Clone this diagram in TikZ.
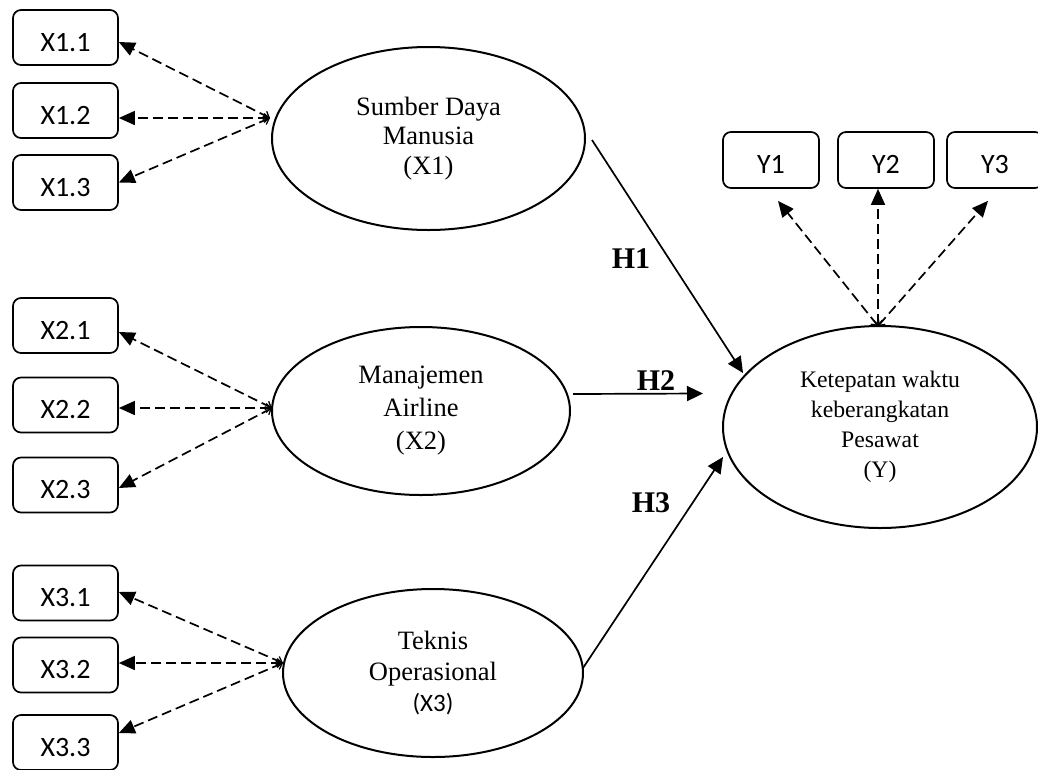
\documentclass[tikz,border=0pt]{standalone}
\usepackage{fontspec}
\setmainfont{Liberation Serif}
\newfontfamily\carl{Carlito}
\usetikzlibrary{arrows.meta,shapes.geometric,calc}
\begin{document}
\begin{tikzpicture}[x=1pt,y=-1pt,
  ind/.style={draw,line width=1.7pt,rounded corners=8pt,minimum width=105pt,minimum height=55pt,inner sep=0pt,
    font=\carl\fontsize{28}{30}\selectfont,text height=27pt,text depth=0pt},
  indy/.style={ind,minimum width=96pt,minimum height=56pt},
  lat/.style={draw,ellipse,line width=2pt,inner sep=0pt,align=center},
  load/.style={line width=1.7pt,dash pattern=on 10pt off 5pt,
    {Straight Barb[length=5pt,width=9pt,line width=1.3pt]}-{Triangle[length=16pt,width=14pt]}},
  sol/.style={line width=1.7pt,-{Triangle[length=16pt,width=15pt]}},
  hlab/.style={font=\bfseries\fontsize{30}{30}\selectfont,inner sep=0pt}
]
\useasboundingbox (0,0) rectangle (1038,769);
\clip (0,0) rectangle (1038,769);

% indicator boxes
\node[ind] (x11) at (65.5,37.5) {X1.1};
\node[ind] (x12) at (65.5,110.5) {X1.2};
\node[ind] (x13) at (65.5,182.5) {X1.3};
\node[ind] (x21) at (65.5,325.5) {X2.1};
\node[ind] (x22) at (65.5,405) {X2.2};
\node[ind] (x23) at (65.5,485) {X2.3};
\node[ind] (x31) at (65.5,593) {X3.1};
\node[ind] (x32) at (65.5,665) {X3.2};
\node[ind] (x33) at (65.5,742.5) {X3.3};
\node[indy] (y1) at (771,160) {Y1};
\node[indy] (y2) at (886,160) {Y2};
\node[indy] (y3) at (995,160) {Y3};

% latent variables
\node[lat,minimum width=313pt,minimum height=183pt,font=\fontsize{26.5}{29.7}\selectfont] (x1) at (428.5,138.5)
  {Sumber Daya\\Manusia\\(X1)};
\node[lat,minimum width=298pt,minimum height=168pt,font=\fontsize{26.5}{33}\selectfont] (x2) at (421,411)
  {Manajemen\\Airline\\(X2)};
\node[lat,minimum width=300pt,minimum height=168pt,font=\fontsize{26.5}{31}\selectfont] (x3) at (433,673)
  {Teknis\\Operasional\\{\carl\fontsize{25}{31}\selectfont (X3)}};
\node[lat,minimum width=314pt,minimum height=202pt,font=\fontsize{23.7}{30}\selectfont] (yy) at (880,427)
  {Ketepatan waktu\\keberangkatan\\Pesawat\\(Y)};

% convergence points
\coordinate (c1) at (270,118);
\coordinate (c2) at (272,408);
\coordinate (c3) at (283,663);
\coordinate (cy) at (878,326);

\draw[load] (c1) -- ($(x11.east)+(0,4.5)$);
\draw[load] (c1) -- ($(x12.east)+(0,7.5)$);
\draw[load] (c1) -- (x13.east);
\draw[load] (c2) -- ($(x21.east)+(0,6.5)$);
\draw[load] (c2) -- ($(x22.east)+(0,3)$);
\draw[load] (c2) -- ($(x23.east)+(0,3)$);
\draw[load] (c3) -- ($(x31.east)+(0,-1)$);
\draw[load] (c3) -- ($(x32.east)+(0,-2)$);
\draw[load] (c3) -- ($(x33.east)+(0,-9.5)$);
\draw[load] (cy) -- ($(y1.south)+(7,12)$);
\draw[load] (cy) -- ($(y2.south)+(-8,0)$);
\draw[load] (cy) -- ($(y3.south)+(-7,12)$);

% structural paths
\coordinate (h1s) at (592,140);
\coordinate (h1e) at (743,373);
\coordinate (h2s) at (573,394);
\coordinate (h2e) at (703,393.5);
\coordinate (h3s) at (583,668);
\coordinate (h3e) at (723,457);
\draw[sol] (h1s) -- (h1e);
\draw[sol] (h2s) -- (h2e);
\draw[sol] (h3s) -- (h3e);

\node[hlab] (lh1) at (631,259) {H1};
\node[hlab] (lh2) at (656,381) {H2};
\node[hlab] (lh3) at (651,503) {H3};
\end{tikzpicture}
\end{document}
